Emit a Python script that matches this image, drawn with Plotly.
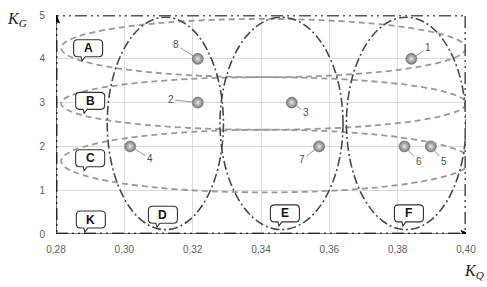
import plotly.graph_objects as go

# ---- data ----
pt_labels = ["1", "2", "3", "4", "5", "6", "7", "8"]
pt_kq = [0.384, 0.3215, 0.349, 0.3017, 0.3897, 0.382, 0.357, 0.3215]
pt_kg = [4.0, 3.0, 3.0, 2.0, 2.0, 2.0, 2.0, 4.0]
# label offsets (px) of the point numbers
pt_ax = [17, -27, 14, 20, 13, 14, -17, -22]
pt_ay = [-11, -3, 10, 12, 15, 15, 13, -14]

# horizontal zones (dashed ellipses): x0, x1, y0, y1
zone_h_names = ["A", "B", "C"]
zone_h_x0 = [0.2815, 0.2815, 0.2815]
zone_h_x1 = [0.4000, 0.4000, 0.4015]
zone_h_y0 = [3.58, 2.38, 0.95]
zone_h_y1 = [4.91, 3.58, 2.38]
zone_h_lab_x = [0.2894, 0.2900, 0.2900]
zone_h_lab_y = [4.24, 3.04, 1.73]

# vertical zones (dash-dot ellipses)
zone_v_names = ["D", "E", "F"]
zone_v_x0 = [0.295, 0.328, 0.365]
zone_v_x1 = [0.329, 0.364, 0.400]
zone_v_y0 = [0.10, 0.10, 0.10]
zone_v_y1 = [4.95, 4.95, 4.95]
zone_v_lab_x = [0.3113, 0.347, 0.3833]
zone_v_lab_y = [0.44, 0.47, 0.47]

zone_k_lab = ("K", 0.2902, 0.33)

x_ticks = [0.28, 0.30, 0.32, 0.34, 0.36, 0.38, 0.40]
x_tick_text = ["0,28", "0,30", "0,32", "0,34", "0,36", "0,38", "0,40"]
y_ticks = [0, 1, 2, 3, 4, 5]
x_range = [0.28, 0.40]
y_range = [0, 5]

fig = go.Figure()

shapes = []
for x0, x1, y0, y1 in zip(zone_h_x0, zone_h_x1, zone_h_y0, zone_h_y1):
    shapes.append(dict(type="circle", xref="x", yref="y", x0=x0, x1=x1, y0=y0, y1=y1,
                       line=dict(color="#9a9a9a", width=1.8, dash="6px,4px"), layer="above"))
for x0, x1, y0, y1 in zip(zone_v_x0, zone_v_x1, zone_v_y0, zone_v_y1):
    shapes.append(dict(type="circle", xref="x", yref="y", x0=x0, x1=x1, y0=y0, y1=y1,
                       line=dict(color="#4a4a4a", width=1.6, dash="9px,3px,2px,3px"), layer="above"))
# zone K: whole border
shapes.append(dict(type="rect", xref="x", yref="y", x0=x_range[0], x1=x_range[1],
                   y0=y_range[0], y1=y_range[1],
                   line=dict(color="#5a5a5a", width=3.2, dash="12px,4px,2px,4px,2px,4px"),
                   layer="above"))

# axis arrows: lines plus pixel-sized arrowheads
shapes.append(dict(type="line", xref="x", yref="y", x0=x_range[0], x1=x_range[1],
                   y0=y_range[0], y1=y_range[0], line=dict(color="black", width=1.2), layer="above"))
shapes.append(dict(type="line", xref="x", yref="y", x0=x_range[0], x1=x_range[0],
                   y0=y_range[0], y1=y_range[1], line=dict(color="black", width=1.2), layer="above"))
shapes.append(dict(type="path", xref="x", yref="y", xsizemode="pixel", ysizemode="pixel",
                   xanchor=x_range[1], yanchor=y_range[0],
                   path="M 4,0 L -5,3.5 L -3,0 L -5,-3.5 Z",
                   fillcolor="black", line=dict(color="black", width=0.8), layer="above"))
shapes.append(dict(type="path", xref="x", yref="y", xsizemode="pixel", ysizemode="pixel",
                   xanchor=x_range[0], yanchor=y_range[1],
                   path="M 0,1 L -3.5,-8 L 0,-6 L 3.5,-8 Z",
                   fillcolor="black", line=dict(color="black", width=0.8), layer="above"))

# callout bubbles (pixel-sized paths anchored at label positions)
def bubble_path(w=29, h=17, r=4, tx=-6, th=4):
    hw, hh = w / 2, h / 2
    p = (f"M {-hw + r},{hh} L {hw - r},{hh} Q {hw},{hh} {hw},{hh - r} "
         f"L {hw},{-hh + r} Q {hw},{-hh} {hw - r},{-hh} "
         f"L {tx + 3},{-hh} L {tx},{-hh - th} L {tx - 1},{-hh} "
         f"L {-hw + r},{-hh} Q {-hw},{-hh} {-hw},{-hh + r} "
         f"L {-hw},{hh - r} Q {-hw},{hh} {-hw + r},{hh} Z")
    return p

labels_all = list(zip(zone_h_names, zone_h_lab_x, zone_h_lab_y)) + \
    list(zip(zone_v_names, zone_v_lab_x, zone_v_lab_y)) + [zone_k_lab]
annotations = []
for name, lx, ly in labels_all:
    shapes.append(dict(type="path", xref="x", yref="y", xsizemode="pixel", ysizemode="pixel",
                       xanchor=lx, yanchor=ly, path=bubble_path(),
                       fillcolor="white", line=dict(color="#333333", width=1.1), layer="above"))
    annotations.append(dict(x=lx, y=ly, xref="x", yref="y", text=f"<b>{name}</b>",
                            showarrow=False, font=dict(family="Liberation Sans", size=12, color="#111")))

# points
fig.add_trace(go.Scatter(
    x=pt_kq, y=pt_kg, mode="markers",
    marker=dict(size=11, color="#7a7a7a", gradient=dict(type="radial", color="#e6e6e6"),
                line=dict(color="#6a6a6a", width=0.6)),
    hoverinfo="skip", showlegend=False))

for lab, x, y, ax, ay in zip(pt_labels, pt_kq, pt_kg, pt_ax, pt_ay):
    annotations.append(dict(x=x, y=y, xref="x", yref="y", text=lab, showarrow=True,
                            arrowhead=0, arrowwidth=0.8, arrowcolor="#808080", standoff=5,
                            ax=ax, ay=ay, font=dict(family="Liberation Sans", size=10, color="#505050")))

# axis titles (positions given in page pixels, converted to plot-area paper fractions)
PL, PT, PW, PH = 56, 9, 410, 225
def px_to_paper(px, py):
    return (px - PL) / PW, (PT + PH - py) / PH

tx, ty = px_to_paper(5, 14)
annotations.append(dict(x=tx, y=ty, xref="paper", yref="paper", showarrow=False,
                        text="<i>K</i><sub><i>G</i></sub>", xanchor="left", yanchor="middle",
                        font=dict(family="Liberation Serif", size=16, color="#222")))
tx, ty = px_to_paper(462, 273)
annotations.append(dict(x=tx, y=ty, xref="paper", yref="paper", showarrow=False,
                        text="<i>K</i><sub><i>Q</i></sub>", xanchor="left", yanchor="middle",
                        font=dict(family="Liberation Serif", size=16, color="#222")))

fig.update_layout(
    width=487, height=287,
    margin=dict(l=PL, r=487 - PL - PW, t=PT, b=287 - PT - PH),
    paper_bgcolor="white", plot_bgcolor="white",
    shapes=shapes, annotations=annotations,
    xaxis=dict(range=x_range, tickvals=x_ticks, ticktext=x_tick_text,
               showgrid=True, gridcolor="#dcdcdc", gridwidth=1, zeroline=False,
               showline=False, ticks="", ticklabelstandoff=8,
               tickfont=dict(family="Liberation Sans", size=10, color="#606060")),
    yaxis=dict(range=y_range, tickvals=y_ticks, showgrid=True, gridcolor="#dcdcdc",
               gridwidth=1, zeroline=False, showline=False, ticks="", ticklabelstandoff=10,
               tickfont=dict(family="Liberation Sans", size=10, color="#606060")),
)

fig.write_html("out.html")
